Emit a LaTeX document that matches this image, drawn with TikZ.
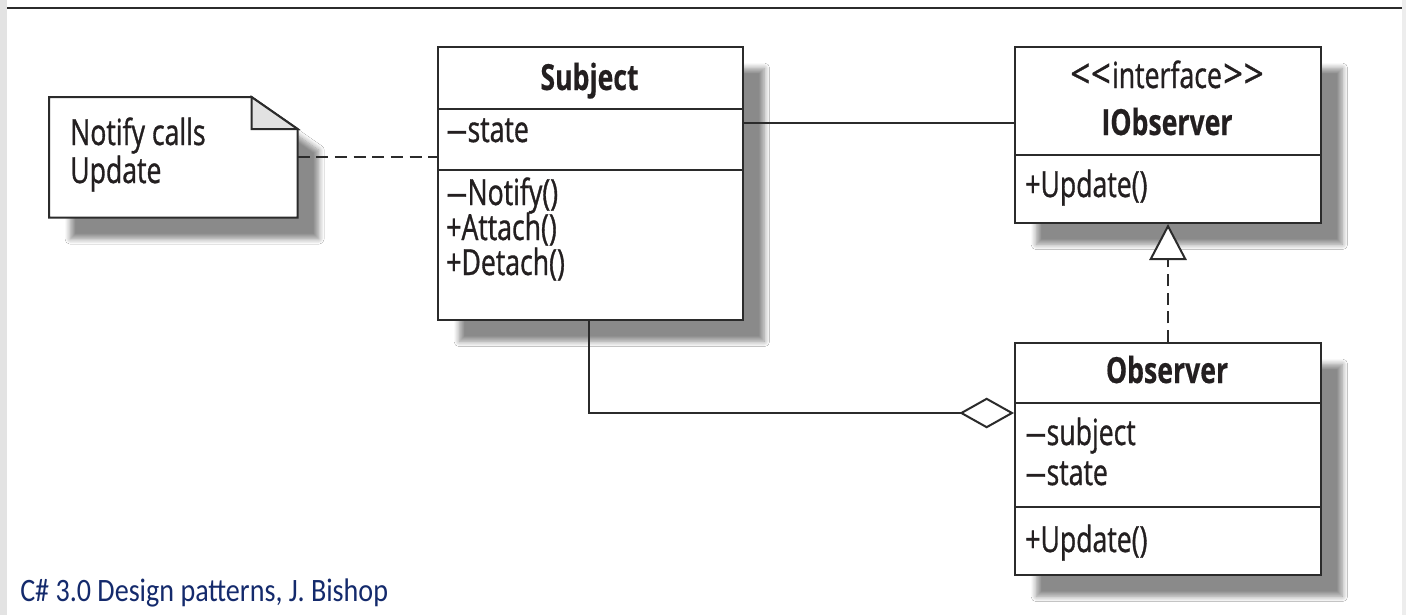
\documentclass[tikz,border=0pt]{standalone}
\usepackage{fontspec}
\newfontfamily\umlfont{Open Sans}[FakeStretch=0.74,FakeBold=0.9,
  BoldFeatures={FakeBold=0.4}]
\newfontfamily\capfont{Carlito}[FakeStretch=0.86]
\usetikzlibrary{arrows.meta,shadows.blur,calc}
\definecolor{ink}{HTML}{2B2B2B}
\definecolor{txt}{HTML}{231F20}
\definecolor{navy}{RGB}{20,42,108}
\definecolor{foldgray}{HTML}{E2E2E2}
\definecolor{edgegray}{HTML}{E3E3E3}
\definecolor{edgegrayr}{HTML}{EDEDED}
% private-member dash and stereotype brackets
\newcommand\umlpriv{\scalebox{1.6}[1]{–}}
\newcommand\stereoopen{\scalebox{1.3}[1.12]{\textless\kern0.5pt\textless}\kern1pt}
\newcommand\stereoclose{\kern1pt\scalebox{1.3}[1.12]{\textgreater\kern0.5pt\textgreater}}
\begin{document}
\begin{tikzpicture}[x=0.75pt,y=-0.75pt,
  umlline/.style={draw=ink,line width=1.5pt},
  shadowed/.style={blur shadow={shadow xshift=16pt,shadow yshift=-16pt,
      shadow blur radius=4pt,shadow blur steps=8,shadow opacity=46}},
  classbox/.style={umlline,fill=white,shadowed,rectangle,inner sep=0pt,anchor=north west},
  lbl/.style={inner sep=0pt,anchor=base west,text=txt,
      font=\umlfont\fontsize{27pt}{32pt}\selectfont},
  title/.style={lbl,anchor=base,font=\umlfont\bfseries\fontsize{27pt}{32pt}\selectfont},
  stereo/.style={lbl,anchor=base},
  dashline/.style={umlline,dash pattern=on 9pt off 5pt},
]
% page frame
\useasboundingbox (0,0) rectangle (1406,615);
\fill[white] (0,0) rectangle (1406,615);
\fill[edgegray] (0,0) rectangle (7,615);
\fill[edgegrayr] (1402,0) rectangle (1406,615);
\draw[ink,line width=2pt] (7,8) -- (1402,8);

% note
\node[inner sep=0pt,minimum width=186pt,minimum height=90pt,anchor=north west] (note) at (49,97) {};
\draw[umlline,fill=white,shadowed,line join=miter]
  (note.north west) -- ($(note.north east)+(-46,0)$) -- ($(note.north east)+(0,32)$)
  -- (note.south east) -- (note.south west) -- cycle;
\draw[umlline,fill=foldgray,line join=miter]
  ($(note.north east)+(-46,0)$) -- ($(note.north east)+(-46,32)$) -- ($(note.north east)+(0,32)$) -- cycle;
\node[lbl] (n1) at (70,145) {Notify calls};
\node[lbl] (n2) at (70,183) {Update};

% class Subject
\node[classbox,minimum width=228.75pt,minimum height=204.75pt] (subject) at (437,46) {};
\draw[umlline] ($(subject.north west)+(0,63)$) -- ($(subject.north east)+(0,63)$);
\draw[umlline] ($(subject.north west)+(0,124)$) -- ($(subject.north east)+(0,124)$);
\node[title] (s0) at (589.5,90) {Subject};
\node[lbl] (s1) at (446,142) {\umlpriv state};
\node[lbl] (s2) at (446,205) {\umlpriv Notify()};
\node[lbl] (s3) at (446,240) {+Attach()};
\node[lbl] (s4) at (446,275) {+Detach()};

% interface IObserver
\node[classbox,minimum width=229.5pt,minimum height=132pt] (iobs) at (1014,46) {};
\draw[umlline] ($(iobs.north west)+(0,109)$) -- ($(iobs.north east)+(0,109)$);
\node[stereo] (i0) at (1167,88) {\stereoopen interface\stereoclose};
\node[title] (i1) at (1167,135) {IObserver};
\node[lbl] (i2) at (1025,197) {+Update()};

% class Observer
\node[classbox,minimum width=229.5pt,minimum height=174pt] (obs) at (1014,342) {};
\draw[umlline] ($(obs.north west)+(0,61)$) -- ($(obs.north east)+(0,61)$);
\draw[umlline] ($(obs.north west)+(0,165)$) -- ($(obs.north east)+(0,165)$);
\node[title] (o0) at (1167,383) {Observer};
\node[lbl] (o1) at (1025,445) {\umlpriv subject};
\node[lbl] (o2) at (1025,485) {\umlpriv state};
\node[lbl] (o3) at (1025,552) {+Update()};

% connectors
\draw[dashline] (note.east) -- (note.east -| subject.west);
\coordinate (assoc) at ($(subject.north east)+(0,77)$);
\draw[umlline] (assoc) -- (assoc -| iobs.west);
\coordinate (aggend) at ($(obs.north west)+(0,71)$);
\draw[umlline,-{Diamond[fill=white,length=41pt,width=23pt]}]
  ([xshift=-1pt]subject.south) |- (aggend);
\draw[dashline,-{Triangle[fill=white,length=27pt,width=28pt]}]
  (obs.north) -- (iobs.south);

% caption
\node[inner sep=0pt,anchor=base west,text=navy,font=\capfont\fontsize{24.5pt}{29pt}\selectfont]
  (cap) at (20,601) {C\# 3.0 Design patterns, J. Bishop};
\end{tikzpicture}
\end{document}
